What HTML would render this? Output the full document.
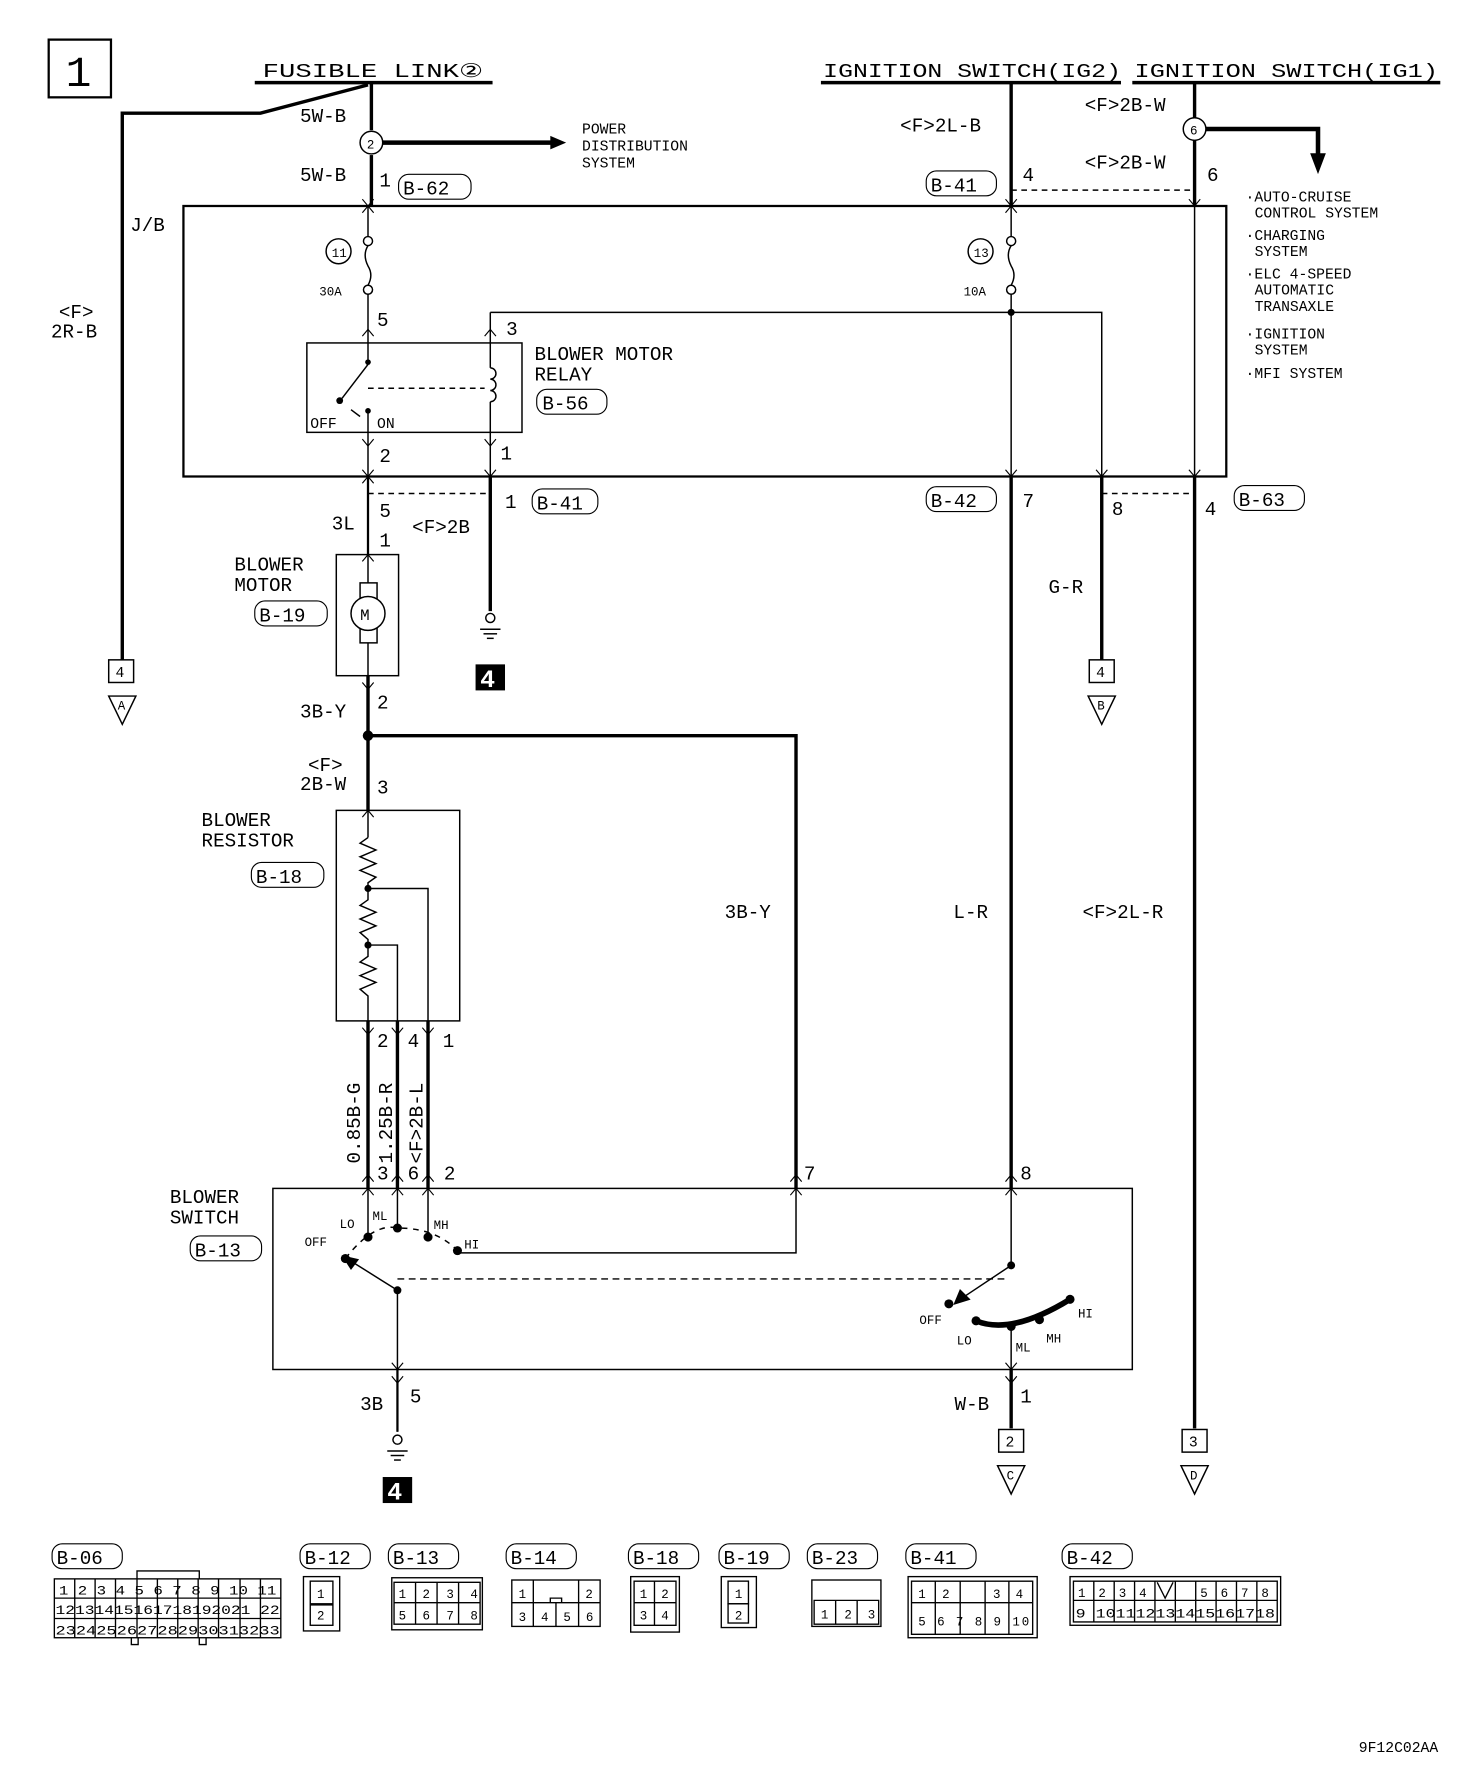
<!DOCTYPE html>
<html><head><meta charset="utf-8"><style>
html,body{margin:0;padding:0;background:#fff}
svg{display:block}
text{font-family:"Liberation Mono",monospace;fill:#000}
.t{font-size:17px}
.s{font-size:13px}
.x{font-size:11px}
</style></head><body>
<svg width="1472" height="1786" viewBox="0 0 1300 1578" preserveAspectRatio="none" xmlns="http://www.w3.org/2000/svg">
<g fill="none" stroke="#000" stroke-width="1.3">
<rect x="43" y="35" width="55" height="51" stroke-width="2"/>
<line x1="225" y1="73" x2="435" y2="73" stroke-width="3"/>
<line x1="725" y1="73" x2="990" y2="73" stroke-width="3"/>
<line x1="1000" y1="73" x2="1272" y2="73" stroke-width="3"/>
<polyline points="108,583 108,100 230,100 325,75" stroke-width="3"/>
<line x1="328" y1="73" x2="328" y2="115" stroke-width="3"/>
<line x1="328" y1="137" x2="328" y2="182" stroke-width="3"/>
<circle cx="328" cy="126" r="10"/>
<line x1="338" y1="126" x2="488" y2="126" stroke-width="4"/>
<rect x="162" y="182" width="921" height="239" stroke-width="2"/>
<line x1="325" y1="182" x2="325" y2="209"/>
<circle cx="325" cy="213" r="4"/>
<path d="M325,217 q-5,8 0,18 q5,8 0,17"/>
<circle cx="325" cy="256" r="4"/>
<line x1="325" y1="260" x2="325" y2="303"/>
<circle cx="299" cy="222" r="11"/>
<rect x="271" y="303" width="190" height="79"/>
<line x1="325" y1="303" x2="325" y2="320"/>
<line x1="325" y1="322" x2="302" y2="352"/>
<line x1="310" y1="362" x2="318" y2="368" />
<line x1="325" y1="363" x2="325" y2="421"/>
<line x1="325" y1="343" x2="428" y2="343" stroke-dasharray="5,4"/>
<line x1="433" y1="276" x2="433" y2="325"/>
<path d="M433,325 a5,5 0 1 1 0,10 a5,5 0 1 1 0,10 a5,5 0 1 1 0,10"/>
<line x1="433" y1="355" x2="433" y2="421"/>
<polyline points="433,276 973,276 973,421"/>
<line x1="325" y1="421" x2="325" y2="490" stroke-width="2"/>
<line x1="325" y1="436" x2="433" y2="436" stroke-dasharray="5,4"/>
<line x1="433" y1="421" x2="433" y2="540" stroke-width="3"/>
<circle cx="433" cy="546" r="4"/>
<line x1="424" y1="556" x2="442" y2="556"/><line x1="427" y1="560" x2="439" y2="560"/><line x1="430" y1="564" x2="436" y2="564"/>
<rect x="297" y="490" width="55" height="107"/>
<line x1="325" y1="490" x2="325" y2="515"/>
<rect x="318" y="515" width="15" height="53"/>
<circle cx="325" cy="542" r="15" fill="#fff"/>
<line x1="325" y1="568" x2="325" y2="597"/>
<line x1="325" y1="597" x2="325" y2="716" stroke-width="3"/>
<polyline points="325,650 703,650 703,1050" stroke-width="3"/>
<circle cx="325" cy="650" r="4" fill="#000"/>
<rect x="297" y="716" width="109" height="186"/>
<line x1="325" y1="716" x2="325" y2="740"/>
<polyline points="325,740 318,745 332,751 318,757 332,763 318,769 332,775 325,780 325,795 318,800 332,806 318,812 332,818 318,824 325,830 325,845 318,850 332,856 318,862 332,868 318,874 325,880 325,902"/>
<polyline points="325,785 378,785 378,902"/>
<polyline points="325,835 351,835 351,902"/>
<circle cx="325" cy="785" r="2.5" fill="#000"/><circle cx="325" cy="835" r="2.5" fill="#000"/>
<line x1="325" y1="902" x2="325" y2="1050" stroke-width="3"/>
<line x1="351" y1="902" x2="351" y2="1050" stroke-width="3"/>
<line x1="378" y1="902" x2="378" y2="1050" stroke-width="3"/>
<rect x="241" y="1050" width="759" height="160"/>
<line x1="325" y1="1050" x2="325" y2="1093"/>
<line x1="351" y1="1050" x2="351" y2="1085"/>
<line x1="378" y1="1050" x2="378" y2="1093"/>
<path d="M305,1112 Q330,1080 351,1085 Q385,1085 404,1105" stroke-dasharray="5,5"/>
<polyline points="404,1107 703,1107 703,1050"/>
<line x1="351" y1="1140" x2="308" y2="1113"/>
<polygon points="303,1110 316,1113 310,1121" fill="#000"/>
<line x1="351" y1="1130" x2="890" y2="1130" stroke-dasharray="6,4"/>
<line x1="351" y1="1140" x2="351" y2="1265" stroke-width="1.3"/>
<line x1="351" y1="1210" x2="351" y2="1265" stroke-width="2"/>
<circle cx="351" cy="1272" r="4"/>
<line x1="342" y1="1282" x2="360" y2="1282"/><line x1="345" y1="1286" x2="357" y2="1286"/><line x1="348" y1="1290" x2="354" y2="1290"/>
<line x1="893" y1="73" x2="893" y2="182" stroke-width="3"/>
<line x1="893" y1="182" x2="893" y2="209"/>
<circle cx="893" cy="213" r="4"/>
<path d="M893,217 q-5,8 0,18 q5,8 0,17"/>
<circle cx="893" cy="256" r="4"/>
<line x1="893" y1="260" x2="893" y2="421"/>
<circle cx="893" cy="276" r="2.5" fill="#000"/>
<circle cx="866" cy="222" r="11"/>
<line x1="893" y1="421" x2="893" y2="1050" stroke-width="3"/>
<line x1="893" y1="1050" x2="893" y2="1118"/>
<line x1="893" y1="1118" x2="848" y2="1148"/>
<polygon points="843,1152 848,1140 856,1148" fill="#000"/>
<path d="M862,1167 Q893,1180 945,1148" stroke-width="5"/>
<line x1="893" y1="1172" x2="893" y2="1210"/>
<line x1="893" y1="1210" x2="893" y2="1262" stroke-width="3"/>
<line x1="1055" y1="73" x2="1055" y2="104" stroke-width="3"/>
<circle cx="1055" cy="114" r="10"/>
<line x1="1055" y1="124" x2="1055" y2="182" stroke-width="3"/>
<line x1="1055" y1="182" x2="1055" y2="421"/>
<line x1="1055" y1="421" x2="1055" y2="1262" stroke-width="3"/>
<polyline points="1065,114 1164,114 1164,138" stroke-width="4"/>
<polygon points="1158,136 1170,136 1164,152" fill="#000"/>
<line x1="893" y1="168" x2="1055" y2="168" stroke-dasharray="5,4"/>
<line x1="973" y1="421" x2="973" y2="583" stroke-width="3"/>
<line x1="973" y1="436" x2="1055" y2="436" stroke-dasharray="5,4"/>
<rect x="96" y="583" width="22" height="20"/><polygon points="96,615 120,615 108,640"/>
<rect x="962" y="583" width="22" height="20"/><polygon points="961,615 985,615 973,640"/>
<rect x="882" y="1263" width="22" height="20"/><polygon points="881,1295 905,1295 893,1320"/>
<rect x="1044" y="1263" width="22" height="20"/><polygon points="1043,1295 1067,1295 1055,1320"/>
</g>
<polygon points="486,120 500,126 486,132" fill="#000"/>
<g fill="#000">
<circle cx="325" cy="320" r="2.5"/><circle cx="300" cy="354" r="3"/><circle cx="325" cy="363" r="2.5"/>
<circle cx="325" cy="1093" r="4"/><circle cx="351" cy="1085" r="4"/><circle cx="378" cy="1093" r="4"/><circle cx="404" cy="1105" r="4"/><circle cx="305" cy="1112" r="4"/><circle cx="351" cy="1140" r="3.5"/>
<circle cx="893" cy="1118" r="3.5"/><circle cx="838" cy="1152" r="4"/><circle cx="862" cy="1167" r="4"/><circle cx="893" cy="1172" r="4"/><circle cx="918" cy="1166" r="4"/><circle cx="945" cy="1148" r="4"/>
<rect x="420" y="587" width="26" height="23"/><rect x="338" y="1305" width="26" height="23"/>
</g>
<g fill="none" stroke="#000" stroke-width="1">
<path d="M320,188 l5,-6 l5,6 M320,176 l5,6 l5,-6 M888,188 l5,-6 l5,6 M888,176 l5,6 l5,-6 M1050,176 l5,6 l5,-6 M320,297 l5,-6 l5,6 M428,297 l5,-6 l5,6 M320,388 l5,6 l5,-6 M428,388 l5,6 l5,-6 M320,415 l5,6 l5,-6 M428,415 l5,6 l5,-6 M888,415 l5,6 l5,-6 M968,415 l5,6 l5,-6 M1050,415 l5,6 l5,-6 M320,427 l5,-6 l5,6 M320,496 l5,-6 l5,6 M320,603 l5,6 l5,-6 M320,722 l5,-6 l5,6 M320,908 l5,6 l5,-6 M346,908 l5,6 l5,-6 M373,908 l5,6 l5,-6 M320,1044 l5,-6 l5,6 M346,1044 l5,-6 l5,6 M373,1044 l5,-6 l5,6 M698,1044 l5,-6 l5,6 M888,1044 l5,-6 l5,6 M320,1056 l5,-6 l5,6 M346,1056 l5,-6 l5,6 M373,1056 l5,-6 l5,6 M698,1056 l5,-6 l5,6 M888,1056 l5,-6 l5,6 M346,1204 l5,6 l5,-6 M346,1216 l5,6 l5,-6 M888,1204 l5,6 l5,-6 M888,1216 l5,6 l5,-6"/>
</g>
<text x="58" y="76" style="font-size:38px">1</text>
<text class="t" x="232" y="68" textLength="195" lengthAdjust="spacingAndGlyphs">FUSIBLE LINK②</text>
<text class="t" x="727" y="68" textLength="263" lengthAdjust="spacingAndGlyphs">IGNITION SWITCH(IG2)</text>
<text class="t" x="1002" y="68" textLength="268" lengthAdjust="spacingAndGlyphs">IGNITION SWITCH(IG1)</text>
<text class="t" x="265" y="108">5W-B</text>
<text class="t" x="265" y="160">5W-B</text>
<text class="t" x="335" y="165">1</text>
<text class="t" x="356" y="172">B-62</text><rect x="352" y="154" width="64" height="22" rx="9" fill="none" stroke="#000"/>
<text class="x" x="324" y="131">2</text>
<text class="x" x="1051" y="119">6</text>
<text class="s" x="514" y="118">POWER</text><text class="s" x="514" y="133">DISTRIBUTION</text><text class="s" x="514" y="148">SYSTEM</text>
<text class="t" x="115" y="204">J/B</text>
<text class="t" x="52" y="281">&lt;F&gt;</text><text class="t" x="45" y="298">2R-B</text>
<text class="x" x="293" y="227">11</text>
<text class="x" x="860" y="227">13</text>
<text class="x" x="282" y="261">30A</text>
<text class="x" x="851" y="261">10A</text>
<text class="t" x="333" y="288">5</text><text class="t" x="447" y="296">3</text>
<text class="t" x="472" y="318">BLOWER MOTOR</text><text class="t" x="472" y="336">RELAY</text>
<text class="t" x="479" y="362">B-56</text><rect x="474" y="344" width="62" height="22" rx="9" fill="none" stroke="#000"/>
<text class="s" x="274" y="378">OFF</text><text class="s" x="333" y="378">ON</text>
<text class="t" x="335" y="408">2</text><text class="t" x="442" y="406">1</text>
<text class="t" x="795" y="116">&lt;F&gt;2L-B</text>
<text class="t" x="958" y="98">&lt;F&gt;2B-W</text>
<text class="t" x="958" y="149">&lt;F&gt;2B-W</text>
<text class="t" x="903" y="160">4</text><text class="t" x="1066" y="160">6</text>
<text class="t" x="822" y="169">B-41</text><rect x="818" y="151" width="62" height="22" rx="9" fill="none" stroke="#000"/>
<text class="s" x="1100" y="178">·AUTO-CRUISE</text><text class="s" x="1108" y="192">CONTROL SYSTEM</text>
<text class="s" x="1100" y="212">·CHARGING</text><text class="s" x="1108" y="226">SYSTEM</text>
<text class="s" x="1100" y="246">·ELC 4-SPEED</text><text class="s" x="1108" y="260">AUTOMATIC</text><text class="s" x="1108" y="275">TRANSAXLE</text>
<text class="s" x="1100" y="299">·IGNITION</text><text class="s" x="1108" y="313">SYSTEM</text>
<text class="s" x="1100" y="334">·MFI SYSTEM</text>
<text class="t" x="335" y="457">5</text><text class="t" x="446" y="449">1</text>
<text class="t" x="474" y="450">B-41</text><rect x="470" y="432" width="58" height="22" rx="9" fill="none" stroke="#000"/>
<text class="t" x="293" y="468">3L</text><text class="t" x="335" y="483">1</text>
<text class="t" x="364" y="471">&lt;F&gt;2B</text>
<text class="t" x="822" y="448">B-42</text><rect x="818" y="430" width="62" height="22" rx="9" fill="none" stroke="#000"/>
<text class="t" x="903" y="448">7</text><text class="t" x="982" y="455">8</text><text class="t" x="1064" y="455">4</text>
<text class="t" x="1094" y="447">B-63</text><rect x="1090" y="429" width="62" height="22" rx="9" fill="none" stroke="#000"/>
<text class="t" x="926" y="524">G-R</text>
<text class="t" x="207" y="504">BLOWER</text><text class="t" x="207" y="522">MOTOR</text>
<text class="t" x="229" y="549">B-19</text><rect x="225" y="531" width="64" height="22" rx="9" fill="none" stroke="#000"/>
<text x="318" y="548" style="font-size:14px">M</text>
<text x="424" y="607" style="font-size:22px;font-weight:bold;fill:#fff">4</text>
<text x="342" y="1325" style="font-size:22px;font-weight:bold;fill:#fff">4</text>
<text class="s" x="102" y="598">4</text><text class="x" x="104" y="627">A</text>
<text class="s" x="968" y="598">4</text><text class="x" x="969" y="627">B</text>
<text class="s" x="888" y="1278">2</text><text class="x" x="889" y="1307">C</text>
<text class="s" x="1050" y="1278">3</text><text class="x" x="1051" y="1307">D</text>
<text class="t" x="265" y="634">3B-Y</text><text class="t" x="333" y="626">2</text>
<text class="t" x="272" y="681">&lt;F&gt;</text><text class="t" x="265" y="698">2B-W</text><text class="t" x="333" y="701">3</text>
<text class="t" x="178" y="730">BLOWER</text><text class="t" x="178" y="748">RESISTOR</text>
<text class="t" x="226" y="780">B-18</text><rect x="222" y="762" width="64" height="22" rx="9" fill="none" stroke="#000"/>
<text class="t" x="640" y="811">3B-Y</text>
<text class="t" x="842" y="811">L-R</text>
<text class="t" x="956" y="811">&lt;F&gt;2L-R</text>
<text class="t" x="333" y="925">2</text><text class="t" x="360" y="925">4</text><text class="t" x="391" y="925">1</text>
<text class="t" transform="translate(318,1028) rotate(-90)">0.85B-G</text>
<text class="t" transform="translate(346,1028) rotate(-90)">1.25B-R</text>
<text class="t" transform="translate(373,1028) rotate(-90)">&lt;F&gt;2B-L</text>
<text class="t" x="333" y="1042">3</text><text class="t" x="360" y="1042">6</text><text class="t" x="392" y="1042">2</text>
<text class="t" x="710" y="1042">7</text><text class="t" x="901" y="1042">8</text>
<text class="t" x="150" y="1063">BLOWER</text><text class="t" x="150" y="1081">SWITCH</text>
<text class="t" x="172" y="1110">B-13</text><rect x="168" y="1092" width="63" height="22" rx="9" fill="none" stroke="#000"/>
<text class="x" x="300" y="1085">LO</text><text class="x" x="329" y="1078">ML</text><text class="x" x="383" y="1086">MH</text><text class="x" x="410" y="1103">HI</text>
<text class="x" x="269" y="1101">OFF</text>
<text class="x" x="812" y="1170">OFF</text><text class="x" x="845" y="1188">LO</text><text class="x" x="897" y="1194">ML</text><text class="x" x="924" y="1186">MH</text><text class="x" x="952" y="1164">HI</text>
<text class="t" x="318" y="1246">3B</text><text class="t" x="362" y="1239">5</text>
<text class="t" x="843" y="1246">W-B</text><text class="t" x="901" y="1239">1</text>
<g>
<text class="t" x="50" y="1382">B-06</text><rect x="46" y="1364" width="62" height="22" rx="9" fill="none" stroke="#000"/>
<text class="t" x="269" y="1382">B-12</text><rect x="265" y="1364" width="62" height="22" rx="9" fill="none" stroke="#000"/>
<text class="t" x="347" y="1382">B-13</text><rect x="343" y="1364" width="62" height="22" rx="9" fill="none" stroke="#000"/>
<text class="t" x="451" y="1382">B-14</text><rect x="447" y="1364" width="62" height="22" rx="9" fill="none" stroke="#000"/>
<text class="t" x="559" y="1382">B-18</text><rect x="555" y="1364" width="62" height="22" rx="9" fill="none" stroke="#000"/>
<text class="t" x="639" y="1382">B-19</text><rect x="635" y="1364" width="62" height="22" rx="9" fill="none" stroke="#000"/>
<text class="t" x="717" y="1382">B-23</text><rect x="713" y="1364" width="62" height="22" rx="9" fill="none" stroke="#000"/>
<text class="t" x="804" y="1382">B-41</text><rect x="800" y="1364" width="62" height="22" rx="9" fill="none" stroke="#000"/>
<text class="t" x="942" y="1382">B-42</text><rect x="938" y="1364" width="62" height="22" rx="9" fill="none" stroke="#000"/>
</g>
<g fill="none" stroke="#000" stroke-width="1.2">
<rect x="48" y="1395" width="200" height="52"/>
<path d="M48,1412 H248 M48,1430 H248"/>
<path d="M66,1395 V1447 M84,1395 V1447 M102,1395 V1447 M121,1395 V1447 M139,1395 V1447 M157,1395 V1447 M175,1395 V1447 M193,1395 V1447 M212,1395 V1447 M230,1395 V1447"/>
<path d="M121,1395 V1388 H176 V1395 M116,1447 v6 h6 v-6 M176,1447 v6 h6 v-6"/>
<rect x="268" y="1393" width="32" height="48"/><rect x="274" y="1397" width="20" height="20"/><rect x="274" y="1418" width="20" height="18"/>
<rect x="346" y="1394" width="80" height="46"/><path d="M348,1398 H424 V1435 H348 Z M348,1416 H424 M367,1398 V1435 M386,1398 V1435 M405,1398 V1435"/>
<rect x="452" y="1396" width="78" height="41"/><path d="M452,1416 H530 M471,1396 V1437 M511,1396 V1437 M491,1416 V1437 M486,1416 v-4 h10 v4"/>
<rect x="557" y="1393" width="43" height="49"/><path d="M560,1397 H597 V1436 H560 Z M560,1416 H597 M578,1397 V1436"/>
<rect x="637" y="1393" width="31" height="45"/><rect x="643" y="1397" width="18" height="20"/><rect x="643" y="1417" width="18" height="17"/>
<rect x="717" y="1396" width="61" height="41"/><path d="M719,1414 H776 V1435 H719 Z M738,1414 V1435 M757,1414 V1435"/>
<rect x="802" y="1393" width="114" height="54"/><path d="M805,1397 H912 V1444 H805 Z M805,1416 H912 M826,1397 V1444 M848,1416 V1444 M870,1397 V1444 M891,1397 V1444 M848,1397 V1416"/>
<rect x="945" y="1393" width="186" height="43"/><path d="M948,1397 H1128 V1433 H948 Z M948,1414 H1128 M966,1397 V1433 M984,1397 V1433 M1002,1397 V1433 M1020,1397 V1433 M1038,1397 V1433 M1056,1397 V1433 M1074,1397 V1433 M1092,1397 V1433 M1110,1397 V1433 M1022,1398 L1029,1412 L1036,1398"/>
</g>
<g font-size="11" font-family="Liberation Sans Narrow, Liberation Sans, sans-serif">
<text x="52" y="1409" textLength="192" lengthAdjust="spacingAndGlyphs">1  2  3  4  5  6  7  8  9  10 11</text>
<text x="49" y="1426" textLength="198" lengthAdjust="spacingAndGlyphs">12131415161718192021 22</text>
<text x="49" y="1444" textLength="198" lengthAdjust="spacingAndGlyphs">2324252627282930313233</text>
<text x="280" y="1412">1</text><text x="280" y="1431">2</text>
<text x="352" y="1412" textLength="70" lengthAdjust="spacing">1 2 3 4</text><text x="352" y="1431" textLength="70" lengthAdjust="spacing">5 6 7 8</text>
<text x="458" y="1412">1</text><text x="517" y="1412">2</text><text x="458" y="1432" textLength="66" lengthAdjust="spacing">3 4 5 6</text>
<text x="565" y="1412">1</text><text x="584" y="1412">2</text><text x="565" y="1431">3</text><text x="584" y="1431">4</text>
<text x="649" y="1412">1</text><text x="649" y="1431">2</text>
<text x="725" y="1430" textLength="48" lengthAdjust="spacing">1 2 3</text>
<text x="811" y="1412">1</text><text x="832" y="1412">2</text><text x="877" y="1412">3</text><text x="897" y="1412">4</text>
<text x="811" y="1436" textLength="98" lengthAdjust="spacing">5 6 7 8 9 10</text>
<text x="952" y="1411">1</text><text x="970" y="1411">2</text><text x="988" y="1411">3</text><text x="1006" y="1411">4</text><text x="1060" y="1411">5</text><text x="1078" y="1411">6</text><text x="1096" y="1411">7</text><text x="1114" y="1411">8</text>
<text x="950" y="1429" textLength="176" lengthAdjust="spacingAndGlyphs">9 101112131415161718</text>
</g>
<text x="1200" y="1548" style="font-size:13px">9F12C02AA</text>
</svg>
</body></html>
